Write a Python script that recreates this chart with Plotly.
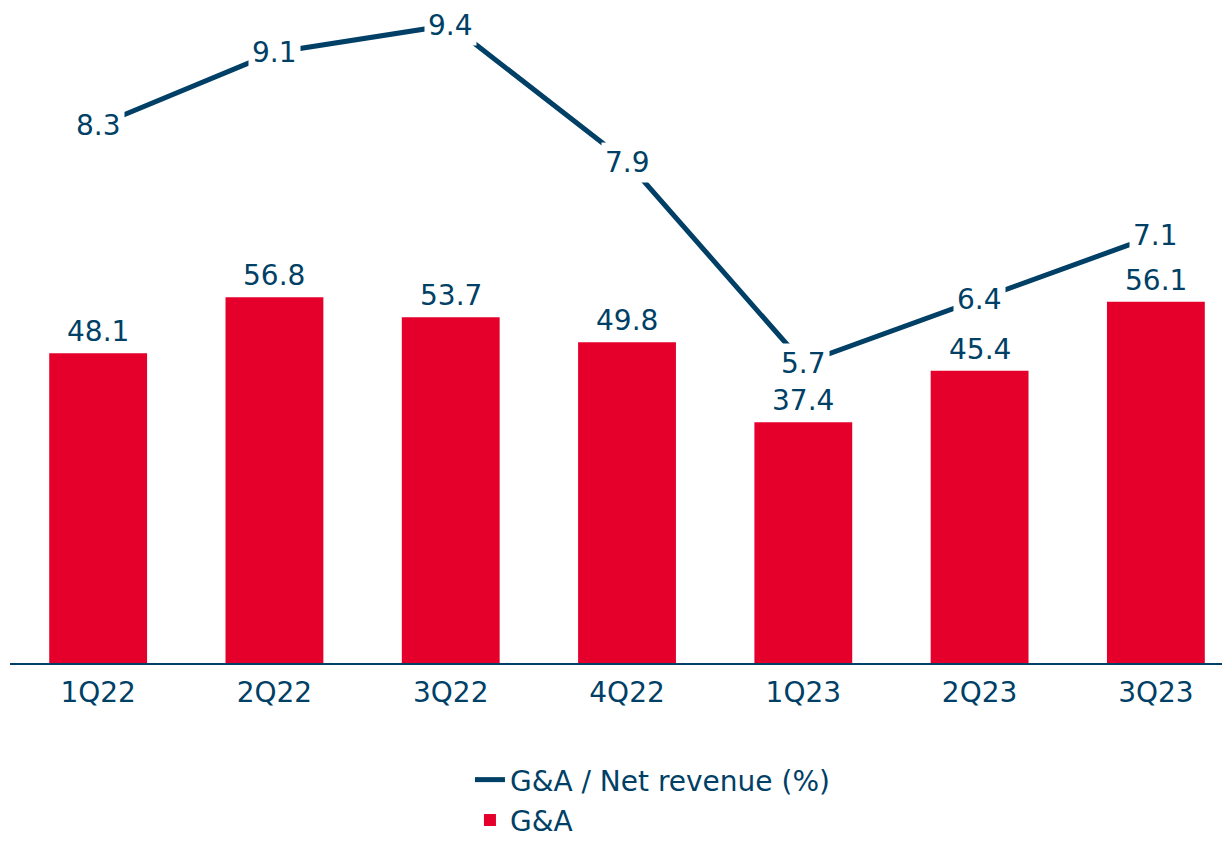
import plotly.graph_objects as go

categories = ["1Q22", "2Q22", "3Q22", "4Q22", "1Q23", "2Q23", "3Q23"]
ga_values = [48.1, 56.8, 53.7, 49.8, 37.4, 45.4, 56.1]
ratio_values = [8.3, 9.1, 9.4, 7.9, 5.7, 6.4, 7.1]

NAVY = "#003F66"
RED = "#E4002B"
FONT = "DejaVu Sans"
FS = 28

fig = go.Figure()

fig.add_trace(go.Scatter(
    x=categories, y=ratio_values, mode="lines", name="G&A / Net revenue (%)",
    line=dict(color=NAVY, width=5), yaxis="y2", legendgroup="a",
    hoverinfo="skip",
))

fig.add_trace(go.Bar(
    x=categories, y=ga_values, name="G&A", marker=dict(color=RED, line=dict(width=0)),
    width=0.555, legendgroup="b", hoverinfo="skip",
))

# bar value labels
for c, v in zip(categories, ga_values):
    fig.add_annotation(
        x=c, y=v, xref="x", yref="y", text=f"{v:.1f}", showarrow=False,
        font=dict(color=NAVY, size=FS, family=FONT),
        xanchor="center", yanchor="middle", yshift=21.5,
    )

# line value labels (white box interrupts the line)
for c, v in zip(categories, ratio_values):
    fig.add_annotation(
        x=c, y=v, xref="x", yref="y2", text=f"{v:.1f}", showarrow=False,
        bgcolor="white", borderpad=3, font=dict(color=NAVY, size=FS, family=FONT),
        xanchor="center", yanchor="middle",
    )

fig.update_layout(
    width=1214, height=829,
    margin=dict(l=2, r=0, t=0, b=174, autoexpand=False),
    plot_bgcolor="white", paper_bgcolor="white",
    font=dict(family=FONT, size=FS, color=NAVY),
    showlegend=True,
    legend=dict(
        orientation="v", x=0.3795, xref="paper", y=0.099, yref="container",
        xanchor="left", yanchor="top",
        font=dict(size=FS, color=NAVY, family=FONT), tracegroupgap=1,
        bgcolor="rgba(0,0,0,0)",
    ),
    xaxis=dict(
        range=[-0.5, 6.375], showline=True, linecolor=NAVY, linewidth=2,
        showgrid=False, zeroline=False, ticks="", ticklabelstandoff=3,
        tickfont=dict(size=FS, color=NAVY, family=FONT),
    ),
    yaxis=dict(range=[0, 101.71], visible=False, showgrid=False),
    yaxis2=dict(range=[2.4159, 9.5861], overlaying="y", visible=False, showgrid=False),
)

fig.write_html("out.html")
